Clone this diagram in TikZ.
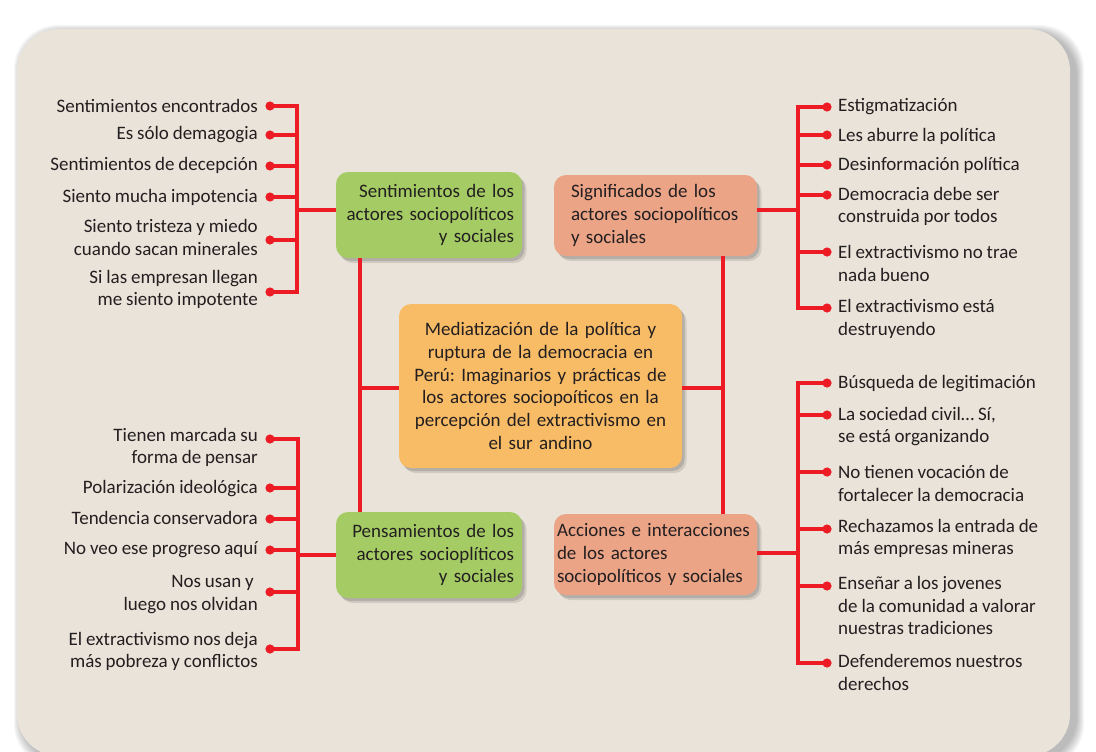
\documentclass[tikz,border=0pt]{standalone}
\usepackage{fontspec}
\setmainfont{Carlito}[WordSpace=0.9]
\usetikzlibrary{shadows}
\definecolor{bgc}{HTML}{E9E3D9}
\definecolor{redc}{HTML}{ED1C24}
\definecolor{greenc}{HTML}{A5CC64}
\definecolor{salmc}{HTML}{ECA487}
\definecolor{orc}{HTML}{F8BB66}
\definecolor{txtc}{HTML}{231F20}
\frenchspacing
\newcommand{\listfont}{\fontsize{19}{22.7}\selectfont\hyphenpenalty=10000\exhyphenpenalty=10000}
\begin{document}
\begin{tikzpicture}[x=1pt,y=-1pt,
  bar/.style={draw=redc, line width=4.8pt, line cap=butt},
  bshadow/.style={drop shadow={shadow xshift=2.5pt, shadow yshift=-3pt, opacity=0.14, fill=black},
                  drop shadow={shadow xshift=4.5pt, shadow yshift=-5pt, opacity=0.10, fill=black}},
  box/.style={rounded corners=12pt, inner ysep=0pt, font=\listfont, text=txtc, bshadow},
  litem/.style={font=\listfont, text=txtc, inner sep=0pt, anchor=east, align=right},
  ritem/.style={font=\listfont, text=txtc, inner sep=0pt, anchor=west, align=left}]
\useasboundingbox (0,0) rectangle (1096,752);
\fill[white] (0,0) rectangle (1096,752);
% background with soft shadow
\foreach \i in {1,...,8}
  \fill[black, opacity=0.035, rounded corners=44pt] (22-\i, 33-\i) rectangle (1076+\i, 760+\i);
\fill[bgc, rounded corners=42pt] (17,29) rectangle (1070,756);

% boxes
\node[box, fill=greenc, minimum width=186pt, minimum height=86pt, text width=170pt, inner xsep=8pt, align=right]
  (sent) at (429,215) {Sentimientos de los\\actores sociopolíticos\\y sociales};
\node[box, fill=salmc, minimum width=203pt, minimum height=81pt, text width=169pt, inner xsep=17pt, align=left]
  (sig) at (655.5,215.5) {Significados de los\\actores sociopolíticos\\y sociales};
\node[box, fill=orc, minimum width=283pt, minimum height=164pt, text width=265pt, inner xsep=9pt, align=center]
  (cen) at (540.5,386) {Mediatización de la política y\\ruptura de la democracia en\\Perú: Imaginarios y prácticas de\\los actores sociopoíticos en la\\percepción del extractivismo en\\el sur andino};
\node[box, fill=greenc, minimum width=186pt, minimum height=86pt, text width=170pt, inner xsep=8pt, align=right]
  (pens) at (429,555) {Pensamientos de los\\actores socioplíticos\\y sociales};
\node[box, fill=salmc, minimum width=203pt, minimum height=81pt, text width=197pt, inner xsep=3pt, align=left]
  (acc) at (655.5,554.5) {Acciones e interacciones\\de los actores\\sociopolíticos y sociales};

% central connectors
\coordinate (lv) at (360,0);
\coordinate (rv) at (723,0);
\coordinate (cy) at (0,388);
\draw[bar] (sent.south -| lv) -- (pens.north -| lv);
\draw[bar] (sig.south -| rv) -- (acc.north -| rv);
\draw[bar] (cen.west |- cy) -- (lv |- cy);
\draw[bar] (cen.east |- cy) -- (rv |- cy);

% ---- top-left list
\node[litem] (l1) at (258,106) {Sentimientos encontrados};
\node[litem] (l2) at (258,135) {Es sólo demagogia};
\node[litem] (l3) at (258,165) {Sentimientos de decepción};
\node[litem] (l4) at (258,197) {Siento mucha impotencia};
\node[litem] (l5) at (258,237.5) {Siento tristeza y miedo\\cuando sacan minerales};
\node[litem] (l6) at (258,289.5) {Si las empresan llegan\\me siento impotente};
\foreach \n/\y in {1/106,2/135,3/166,4/197,5/240,6/292}{
  \coordinate (ld\n) at (270,\y); \coordinate (lb\n) at (297,\y);}
\draw[bar] (ld1) -- (lb1) -- (lb6) -- (ld6);
\foreach \n in {2,...,5} \draw[bar] (ld\n) -- (lb\n);
\foreach \n in {1,...,6} \fill[redc] (ld\n) circle (4.6pt);
\coordinate (lj) at (297,210);
\draw[bar] (lj) -- (lj -| sent.west);

% ---- top-right list
\node[ritem] (r1) at (838,107) {Estigmatización};
\node[ritem] (r2) at (838,136) {Les aburre la política};
\node[ritem] (r3) at (838,165) {Desinformación política};
\node[ritem] (r4) at (838,206.5) {Democracia debe ser\\construida por todos};
\node[ritem] (r5) at (838,263.5) {El extractivismo no trae\\nada bueno};
\node[ritem] (r6) at (838,319) {El extractivismo está\\destruyendo};
\foreach \n/\y in {1/107,2/135,3/165,4/195,5/252,6/308}{
  \coordinate (rd\n) at (827,\y); \coordinate (rb\n) at (798,\y);}
\draw[bar] (rd1) -- (rb1) -- (rb6) -- (rd6);
\foreach \n in {2,...,5} \draw[bar] (rd\n) -- (rb\n);
\foreach \n in {1,...,6} \fill[redc] (rd\n) circle (4.6pt);
\coordinate (rj) at (798,210);
\draw[bar] (rj) -- (rj -| sig.east);

% ---- bottom-left list
\node[litem] (p1) at (258,447.5) {Tienen marcada su\\forma de pensar};
\node[litem] (p2) at (258,489) {Polarización ideológica};
\node[litem] (p3) at (258,518) {Tendencia conservadora};
\node[litem] (p4) at (258,550) {No veo ese progreso aquí};
\node[litem] (p5) at (258,594.5) {Nos usan y\hspace*{4pt}\\luego nos olvidan};
\node[litem] (p6) at (258,651.5) {El extractivismo nos deja\\más pobreza y conflictos};
\foreach \n/\y in {1/439,2/488,3/519,4/550,5/592,6/649}{
  \coordinate (pd\n) at (270,\y); \coordinate (pb\n) at (298,\y);}
\draw[bar] (pd1) -- (pb1) -- (pb6) -- (pd6);
\foreach \n in {2,...,5} \draw[bar] (pd\n) -- (pb\n);
\foreach \n in {1,...,6} \fill[redc] (pd\n) circle (4.6pt);
\coordinate (pj) at (298,555);
\draw[bar] (pj) -- (pj -| pens.west);

% ---- bottom-right list
\node[ritem] (a1) at (838,384) {Búsqueda de legitimación};
\node[ritem] (a2) at (838,426.5) {La sociedad civil… Sí,\\se está organizando};
\node[ritem] (a3) at (838,483.5) {No tienen vocación de\\fortalecer la democracia};
\node[ritem] (a4) at (838,538.5) {Rechazamos la entrada de\\más empresas mineras};
\node[ritem] (a5) at (838,605.5) {Enseñar a los jovenes\\de la comunidad a valorar\\nuestras tradiciones};
\node[ritem] (a6) at (838,672.5) {Defenderemos nuestros\\derechos};
\foreach \n/\y in {1/383,2/415,3/472,4/529,5/586,6/663}{
  \coordinate (ad\n) at (827,\y); \coordinate (ab\n) at (798,\y);}
\draw[bar] (ad1) -- (ab1) -- (ab6) -- (ad6);
\foreach \n in {2,...,5} \draw[bar] (ad\n) -- (ab\n);
\foreach \n in {1,...,6} \fill[redc] (ad\n) circle (4.6pt);
\coordinate (aj) at (798,553);
\draw[bar] (aj) -- (aj -| acc.east);
\end{tikzpicture}
\end{document}
